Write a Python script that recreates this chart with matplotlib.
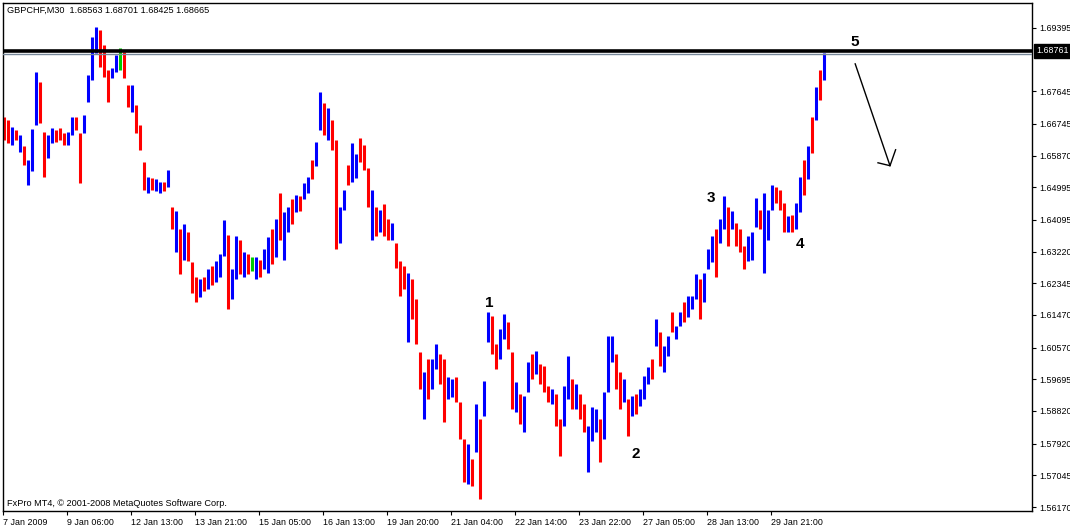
import matplotlib
matplotlib.use("Agg")
import matplotlib.pyplot as plt
from matplotlib.lines import Line2D

# ---------------- data ----------------
symbol_text = "GBPCHF,M30  1.68563 1.68701 1.68425 1.68665"
copyright_text = "FxPro MT4, \u00a9 2001-2008 MetaQuotes Software Corp."

highs = [
    1.6694, 1.6686, 1.6667, 1.6658, 1.6645, 1.6612, 1.6576, 1.6661, 1.6818, 1.6791,
    1.6653, 1.6645, 1.6664, 1.6658, 1.6664, 1.6650, 1.6653, 1.6692, 1.6694, 1.6650,
    1.6700, 1.6810, 1.6915, 1.6942, 1.6934, 1.6893, 1.6824, 1.6829, 1.6865, 1.6884,
    1.6873, 1.6782, 1.6782, 1.6727, 1.6672, 1.6568, 1.6529, 1.6526, 1.6521, 1.6515,
    1.6515, 1.6548, 1.6446, 1.6433, 1.6383, 1.6397, 1.6377, 1.6292, 1.6251, 1.6245,
    1.6251, 1.6273, 1.6281, 1.6295, 1.6314, 1.6408, 1.6369, 1.6273, 1.6364, 1.6355,
    1.6320, 1.6314, 1.6306, 1.6306, 1.6300, 1.6328, 1.6361, 1.6383, 1.6411, 1.6485,
    1.6430, 1.6446, 1.6466, 1.6479, 1.6474, 1.6512, 1.6529, 1.6576, 1.6625, 1.6763,
    1.6733, 1.6719, 1.6686, 1.6631, 1.6446, 1.6493, 1.6562, 1.6623, 1.6590, 1.6636,
    1.6617, 1.6554, 1.6493, 1.6446, 1.6438, 1.6452, 1.6411, 1.6402, 1.6347, 1.6295,
    1.6281, 1.6264, 1.6245, 1.6190, 1.6044, 1.5989, 1.6025, 1.6025, 1.6066, 1.6039,
    1.6025, 1.5975, 1.5970, 1.5975, 1.5906, 1.5804, 1.5791, 1.5749, 1.5901, 1.5860,
    1.5964, 1.6154, 1.6143, 1.6066, 1.6107, 1.6149, 1.6127, 1.6044, 1.5961, 1.5928,
    1.5923, 1.6017, 1.6039, 1.6047, 1.6011, 1.6005, 1.5950, 1.5942, 1.5928, 1.5860,
    1.5950, 1.6033, 1.5970, 1.5956, 1.5928, 1.5901, 1.5840, 1.5893, 1.5887, 1.5860,
    1.5934, 1.6088, 1.6088, 1.6039, 1.5989, 1.5970, 1.5915, 1.5923, 1.5928, 1.5942,
    1.5978, 1.6003, 1.6025, 1.6135, 1.6099, 1.6061, 1.6088, 1.6154, 1.6116, 1.6154,
    1.6182, 1.6198, 1.6198, 1.6259, 1.6245, 1.6264, 1.6328, 1.6364, 1.6383, 1.6411,
    1.6474, 1.6446, 1.6433, 1.6402, 1.6383, 1.6336, 1.6364, 1.6377, 1.6471, 1.6438,
    1.6485, 1.6438, 1.6507, 1.6501, 1.6493, 1.6457, 1.6419, 1.6424, 1.6457, 1.6529,
    1.6576, 1.6612, 1.6694, 1.6777, 1.6824, 1.6871,
]

lows = [
    1.6631, 1.6623, 1.6617, 1.6631, 1.6598, 1.6562, 1.6507, 1.6543, 1.6672, 1.6678,
    1.6529, 1.6581, 1.6623, 1.6625, 1.6631, 1.6617, 1.6617, 1.6645, 1.6658, 1.6512,
    1.6650, 1.6736, 1.6796, 1.6871, 1.6832, 1.6805, 1.6736, 1.6802, 1.6818, 1.6824,
    1.6802, 1.6722, 1.6708, 1.6650, 1.6603, 1.6493, 1.6485, 1.6493, 1.6488, 1.6485,
    1.6488, 1.6501, 1.6383, 1.6320, 1.6259, 1.6300, 1.6295, 1.6209, 1.6182, 1.6196,
    1.6212, 1.6218, 1.6231, 1.6237, 1.6251, 1.6309, 1.6163, 1.6190, 1.6245, 1.6259,
    1.6253, 1.6259, 1.6267, 1.6245, 1.6251, 1.6273, 1.6264, 1.6287, 1.6306, 1.6355,
    1.6300, 1.6375, 1.6397, 1.6430, 1.6433, 1.6466, 1.6485, 1.6521, 1.6557, 1.6658,
    1.6645, 1.6631, 1.6603, 1.6328, 1.6347, 1.6438, 1.6507, 1.6515, 1.6526, 1.6568,
    1.6548, 1.6446, 1.6355, 1.6364, 1.6377, 1.6364, 1.6355, 1.6355, 1.6278, 1.6198,
    1.6218, 1.6072, 1.6135, 1.6066, 1.5942, 1.5860, 1.5915, 1.5942, 1.5997, 1.5956,
    1.5851, 1.5915, 1.5920, 1.5906, 1.5804, 1.5686, 1.5680, 1.5675, 1.5769, 1.5639,
    1.5868, 1.6072, 1.6039, 1.5997, 1.6025, 1.6080, 1.6052, 1.5887, 1.5879, 1.5846,
    1.5824, 1.5934, 1.5970, 1.5983, 1.5956, 1.5934, 1.5906, 1.5901, 1.5840, 1.5758,
    1.5840, 1.5915, 1.5887, 1.5887, 1.5860, 1.5824, 1.5714, 1.5799, 1.5824, 1.5741,
    1.5804, 1.5934, 1.6017, 1.5942, 1.5887, 1.5906, 1.5813, 1.5868, 1.5873, 1.5895,
    1.5915, 1.5956, 1.5970, 1.6061, 1.6005, 1.5989, 1.6033, 1.6099, 1.6080, 1.6116,
    1.6127, 1.6141, 1.6163, 1.6190, 1.6135, 1.6182, 1.6273, 1.6292, 1.6253, 1.6347,
    1.6383, 1.6336, 1.6383, 1.6336, 1.6320, 1.6273, 1.6295, 1.6300, 1.6391, 1.6383,
    1.6264, 1.6355, 1.6438, 1.6457, 1.6438, 1.6377, 1.6377, 1.6377, 1.6383, 1.6430,
    1.6479, 1.6521, 1.6595, 1.6686, 1.6741, 1.6796,
]

# u = bullish bar (blue), d = bearish bar (red), n = unchanged bar (green)
directions = (
    "d d u d u d u u u d  d u u d d d u u d d  u u u u d d d u u n  "
    "d d u d d d u d u u  d u d u d u d d d u  d u d u u u d u u d  "
    "u d n u d u u d u d  u u d u d u u d u u  d u d d u u d u u d  "
    "d d u d u d d u d d  d u d d d u d u u d  d u u d d d u d u d  "
    "u u d d u u d d u d  u u d u d d d u d d  u u d u d d u u u d  "
    "u u u d d u d u d u  u u d u d u u d u u  d u u u d u u u d u  "
    "u d u d d d u u u d  u u u d d d u d u u  d u d u d u"
).split()

time_labels = ["7 Jan 2009", "9 Jan 06:00", "12 Jan 13:00", "13 Jan 21:00",
               "15 Jan 05:00", "16 Jan 13:00", "19 Jan 20:00", "21 Jan 04:00",
               "22 Jan 14:00", "23 Jan 22:00", "27 Jan 05:00", "28 Jan 13:00",
               "29 Jan 21:00"]
bars_per_time_label = 16
price_ticks = [1.69395, 1.67645, 1.66745, 1.65870, 1.64995, 1.64095, 1.63220,
               1.62345, 1.61470, 1.60570, 1.59695, 1.58820, 1.57920, 1.57045,
               1.56170]
level_price = 1.68761
bid_price = 1.68665

wave_labels = ["1", "2", "3", "4", "5"]
wave_x = [121.2, 158.0, 176.8, 199.0, 212.8]
wave_y = [1.6179, 1.5763, 1.6471, 1.6344, 1.6901]
arrow_start = (212.8, 1.6840)
arrow_end = (221.5, 1.6559)
arrow_head_left = (218.5, 1.6567)
arrow_head_right = (222.9, 1.6603)
# ---------------------------------------------------------------

colors = {"u": "#0000ff", "d": "#ff0000", "n": "#00cc00"}
FONT = "Liberation Sans"

W, H = 1070, 528
fig = plt.figure(figsize=(W / 100, H / 100), dpi=100)
fig.patch.set_facecolor("white")
ax = fig.add_axes([3 / W, 1 - 511 / H, (1032 - 3) / W, (511 - 3) / H])
ax.set_facecolor("white")

xs = list(range(len(highs)))
ax.vlines(xs, lows, highs, colors=[colors[d] for d in directions],
          linewidth=2.2, zorder=2)

ax.set_xlim(-0.25, 257.0)
ax.set_ylim(1.5606, 1.7008)

# horizontal level lines
ax.axhline(level_price, color="black", linewidth=2.6, zorder=4)
ax.axhline(bid_price, color="#778899", linewidth=1.0, zorder=3)

# spines
for s in ax.spines.values():
    s.set_color("black")
    s.set_linewidth(1.0)

# x ticks
xt = [-0.25 + bars_per_time_label * k for k in range(len(time_labels))]
ax.set_xticks(xt)
ax.set_xticklabels(time_labels, fontsize=6.4, family=FONT, ha="left")
ax.tick_params(axis="x", direction="out", length=3, width=0.8, pad=2,
               color="black")

# y ticks on the right
ax.yaxis.tick_right()
ax.set_yticks(price_ticks)
ax.set_yticklabels([f"{v:.5f}" for v in price_ticks], fontsize=6.4, family=FONT)
ax.tick_params(axis="y", direction="out", length=3, width=0.8, pad=2,
               color="black")

# bid label partly hidden under the black level label (as in the terminal)
ax.text(1.0 + 4 / W, bid_price, f"{bid_price:.5f}", transform=ax.get_yaxis_transform(),
        fontsize=6.4, family=FONT, va="center", ha="left", color="black",
        zorder=5, clip_on=False)
ax.text(1.0 + 4 / W, level_price, f"{level_price:.5f}", transform=ax.get_yaxis_transform(),
        fontsize=6.4, family=FONT, va="center", ha="left", color="white",
        zorder=6, clip_on=False,
        bbox=dict(boxstyle="square,pad=0.25", facecolor="black", edgecolor="black"))

# header and copyright
ax.text(4 / W, 1 - 7 / 508, symbol_text, transform=ax.transAxes, fontsize=6.6,
        family=FONT, va="center", ha="left", color="black")
ax.text(4 / W, 8 / 508, copyright_text, transform=ax.transAxes, fontsize=6.6,
        family=FONT, va="center", ha="left", color="black")

# wave labels
for lab, x, y in zip(wave_labels, wave_x, wave_y):
    ax.text(x, y, lab, fontsize=11, fontweight="bold", family=FONT,
            ha="center", va="center", color="black", zorder=7)

# hand-drawn arrow
ax.add_line(Line2D([arrow_start[0], arrow_end[0]], [arrow_start[1], arrow_end[1]],
                   color="black", linewidth=1.0, zorder=7))
ax.add_line(Line2D([arrow_head_left[0], arrow_end[0], arrow_head_right[0]],
                   [arrow_head_left[1], arrow_end[1], arrow_head_right[1]],
                   color="black", linewidth=1.0, zorder=7))

fig.savefig("out.png", dpi=100, facecolor="white")
